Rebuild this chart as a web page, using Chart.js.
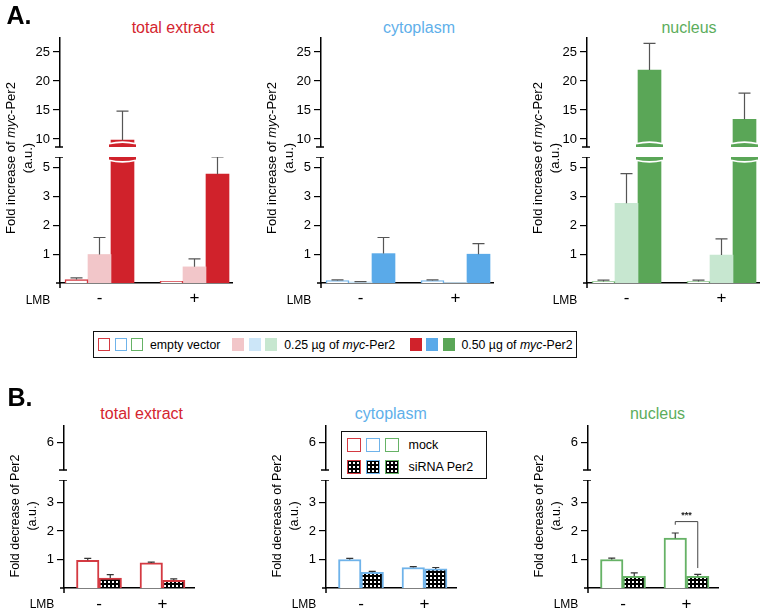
<!DOCTYPE html>
<html>
<head>
<meta charset="utf-8">
<script src="https://cdn.jsdelivr.net/npm/chart.js@4.4.0/dist/chart.umd.min.js"></script>
<style>
html,body{margin:0;padding:0;background:#fff;}
body{width:762px;height:612px;position:relative;overflow:hidden;font-family:'Liberation Sans',Arial,Helvetica,sans-serif;color:#000;}
canvas{position:absolute;}
.t{position:absolute;white-space:nowrap;line-height:1;transform:translate(-50%,-50%);z-index:2;}
.yt{position:absolute;white-space:nowrap;text-align:center;line-height:17px;transform:translate(-50%,-50%) rotate(-90deg);z-index:2;}
.leg{position:absolute;box-sizing:border-box;border:1.5px solid #111;background:#fff;z-index:3;white-space:nowrap;}
.row{display:flex;align-items:center;flex-wrap:nowrap;}
.grp{position:absolute;top:50%;transform:translateY(-50%);}
.sw{box-sizing:border-box;flex:none;}
.lt{flex:none;white-space:nowrap;}
</style>
</head>
<body>
<script>
// ---------------- DATA ----------------
const groupLabels = ['-', '+'];                       // LMB treatment
const panelTitles = ['total extract', 'cytoplasm', 'nucleus'];

// Panel A: fold increase of myc-Per2 (a.u.)
const aSeriesNames = ['empty vector', '0.25 \u00b5g of myc-Per2', '0.50 \u00b5g of myc-Per2'];
const aTotalEmpty = [0.12, 0.06];   const aTotalEmptyErr = [0.06, 0];
const aTotalLow   = [0.99, 0.56];   const aTotalLowErr   = [0.59, 0.28];
const aTotalHigh  = [9.8, 3.78];    const aTotalHighErr  = [5.0, 0.6];
const aCytoEmpty  = [0.08, 0.08];   const aCytoEmptyErr  = [0.03, 0.03];
const aCytoLow    = [0.04, 0.02];   const aCytoLowErr    = [0.01, 0];
const aCytoHigh   = [1.02, 1.0];    const aCytoHighErr   = [0.56, 0.37];
const aNucEmpty   = [0.05, 0.05];   const aNucEmptyErr   = [0.05, 0.05];
const aNucLow     = [2.77, 0.97];   const aNucLowErr     = [1.03, 0.56];
const aNucHigh    = [21.9, 13.4];   const aNucHighErr    = [4.6, 4.5];
const aUpperTicks = [10, 15, 20, 25];
const aLowerTicks = [1, 2, 3, 4];
const aLowerTickLabels = ['1', '2', '3', '5'];

// Panel B: fold decrease of Per2 (a.u.)
const bSeriesNames = ['mock', 'siRNA Per2'];
const bTotalMock = [0.97, 0.88];  const bTotalMockErr = [0.07, 0.03];
const bTotalSi   = [0.35, 0.27];  const bTotalSiErr   = [0.12, 0.05];
const bCytoMock  = [1.0, 0.72];   const bCytoMockErr  = [0.04, 0.03];
const bCytoSi    = [0.55, 0.67];  const bCytoSiErr    = [0.03, 0.05];
const bNucMock   = [1.0, 1.75];   const bNucMockErr   = [0.05, 0.18];
const bNucSi     = [0.41, 0.41];  const bNucSiErr     = [0.12, 0.07];
const bUpperTicks = [6];
const bLowerTicks = [1, 2, 3];
const bSignificance = { label: '***', group: 1, top: 2.33, leftEnd: 2.22, rightEnd: 0.70 };

// ---------------- STYLE ----------------
const pal = [
  { dark: '#d0222b', light: '#f2c6c9', edge: '#d43a42', title: '#d4252f' },
  { dark: '#5aaae9', light: '#cce6f8', edge: '#6fb3ea', title: '#5fb0ea' },
  { dark: '#5aa657', light: '#c7e7d0', edge: '#66b266', title: '#5cad5c' }
];
Chart.defaults.font.family = "'Liberation Sans', Arial, Helvetica, sans-serif";
Chart.defaults.color = '#000';

function hatchTile() {
  const c = document.createElement('canvas'); c.width = 4; c.height = 4;
  const g = c.getContext('2d');
  g.fillStyle = '#000'; g.fillRect(0, 0, 4, 4);
  g.fillStyle = '#fff'; g.fillRect(1, 1, 2, 2);
  return c;
}
const tile = hatchTile();
const hatch = tile.getContext('2d').createPattern(tile, 'repeat');
const hatchURL = tile.toDataURL();

// ---------------- PLUGINS ----------------
const errorBarPlugin = {
  id: 'errorBars',
  afterDatasetsDraw(chart, args, o) {
    const { ctx, chartArea: a } = chart; const y = chart.scales.y;
    ctx.save();
    ctx.beginPath(); ctx.rect(a.left, a.top - 3, a.right - a.left, a.bottom - a.top + 3); ctx.clip();
    ctx.strokeStyle = o.color; ctx.lineWidth = o.width;
    chart.data.datasets.forEach((ds, di) => {
      const meta = chart.getDatasetMeta(di);
      (ds.errors || []).forEach((e, i) => {
        if (!e) return;
        const el = meta.data[i]; const v = ds.data[i].y;
        const y0 = y.getPixelForValue(v), y1 = y.getPixelForValue(v + e);
        ctx.beginPath();
        ctx.moveTo(el.x, y0); ctx.lineTo(el.x, y1);
        ctx.moveTo(el.x - o.cap / 2, y1); ctx.lineTo(el.x + o.cap / 2, y1);
        ctx.stroke();
      });
    });
    ctx.restore();
  }
};
// flared ends where a bar is cut by the axis break
const breakPlugin = {
  id: 'barBreak',
  afterDatasetsDraw(chart, args, o) {
    if (!o || !o.side) return;
    const { ctx, chartArea: a } = chart; const y = chart.scales.y;
    ctx.save();
    chart.data.datasets.forEach((ds, di) => {
      const meta = chart.getDatasetMeta(di);
      meta.data.forEach((el, i) => {
        const v = ds.data[i].y;
        const crosses = o.side === 'top' ? v > y.max : (v > y.min && v < y.max);
        if (!crosses) return;
        const w = el.width, x0 = el.x - w / 2 - 2, x1 = el.x + w / 2 + 2;
        ctx.fillStyle = ds.backgroundColor;
        const ey = o.side === 'top' ? a.top : a.bottom;
        const dir = o.side === 'top' ? 1 : -1;
        ctx.fillRect(x0, Math.min(ey, ey + dir * 4), x1 - x0, 4);
        ctx.strokeStyle = '#fff'; ctx.lineWidth = 1.6;
        ctx.beginPath();
        ctx.moveTo(x0, ey + dir * 3.2);
        ctx.quadraticCurveTo(el.x, ey + dir * 6.5, x1, ey + dir * 3.2);
        ctx.stroke();
      });
    });
    ctx.restore();
  }
};
const axisDecorPlugin = {
  id: 'axisDecor',
  afterDraw(chart, args, o) {
    const { ctx, chartArea: a } = chart;
    ctx.save(); ctx.strokeStyle = '#000'; ctx.lineWidth = 1.5;
    const x = a.left;
    const seg = (x1, y1, x2, y2) => { ctx.beginPath(); ctx.moveTo(x1, y1); ctx.lineTo(x2, y2); ctx.stroke(); };
    if (o.capTop) seg(x - 5, a.top, x + 3, a.top);
    if (o.capBottom) seg(x - 5, a.bottom, x + 3, a.bottom);
    if (o.extend) { seg(x, a.bottom, x, a.bottom + 5); seg(x - 4, a.bottom, x, a.bottom); }
    ctx.restore();
  }
};
const sigPlugin = {
  id: 'sigBracket',
  afterDatasetsDraw(chart, args, o) {
    if (!o || !o.label) return;
    const { ctx } = chart; const y = chart.scales.y;
    const xl = chart.getDatasetMeta(0).data[o.group].x;
    const xr = chart.getDatasetMeta(1).data[o.group].x;
    const yt = y.getPixelForValue(o.top);
    ctx.save(); ctx.strokeStyle = '#444'; ctx.lineWidth = 1;
    ctx.beginPath();
    ctx.moveTo(xl, y.getPixelForValue(o.leftEnd)); ctx.lineTo(xl, yt);
    ctx.lineTo(xr, yt); ctx.lineTo(xr, y.getPixelForValue(o.rightEnd));
    ctx.stroke();
    ctx.fillStyle = '#222'; ctx.font = "bold 9px 'Liberation Sans', Arial";
    ctx.textAlign = 'center'; ctx.textBaseline = 'middle';
    ctx.fillText(o.label, (xl + xr) / 2, yt - 6);
    ctx.restore();
  }
};

// ---------------- BUILDERS ----------------
function pts(vals) { return vals.map((v, i) => ({ x: i, y: v })); }
function makeCanvas(left, top, w, h) {
  const c = document.createElement('canvas');
  c.width = w; c.height = h;
  c.style.left = left + 'px'; c.style.top = top + 'px';
  c.style.width = w + 'px'; c.style.height = h + 'px';
  document.body.appendChild(c);
  return c.getContext('2d');
}
function panelChart(c) {
  const w = c.yW + c.areaW;
  const h = c.areaH + (c.showX ? c.xH : 2);
  const ctx = makeCanvas(c.axisX - c.yW, c.top, w, h);
  c.datasets.forEach(d => { d.barThickness = c.barW; d.clip = 0; });
  return new Chart(ctx, {
    type: 'bar',
    data: { datasets: c.datasets },
    options: {
      responsive: false, animation: false, devicePixelRatio: 1,
      layout: { padding: { left: 0, right: 0, top: 0, bottom: c.showX ? 0 : 2 } },
      plugins: {
        legend: { display: false }, tooltip: { enabled: false },
        errorBars: { color: c.errColor, width: 1.2, cap: c.cap },
        axisDecor: c.decor,
        barBreak: { side: c.breakSide || null },
        sigBracket: c.sig || {}
      },
      scales: {
        x: {
          type: 'linear', display: c.showX, min: c.xMin, max: c.xMax, offset: false,
          afterBuildTicks: s => { s.ticks = groupLabels.map((_, i) => ({ value: i })); },
          afterFit: s => { if (c.showX) s.height = c.xH; s.paddingLeft = 0; s.paddingRight = 0; },
          ticks: { callback: v => groupLabels[v], font: { size: 17 }, color: '#000', padding: c.xPad, autoSkip: false, maxRotation: 0 },
          grid: { display: false, drawTicks: false, offset: false },
          border: { display: true, color: '#000', width: 1.5 }
        },
        y: {
          min: c.yMin, max: c.yMax, beginAtZero: false,
          afterBuildTicks: s => { s.ticks = c.yTicks.map(v => ({ value: v })); },
          afterFit: s => { s.width = c.yW; s.paddingTop = 0; s.paddingBottom = 0; },
          ticks: { callback: (v, i) => c.yTickText[i], font: { size: 13 }, color: '#000', padding: 3, autoSkip: false },
          grid: { display: true, drawOnChartArea: false, drawTicks: true, tickLength: 7, color: '#000', lineWidth: 1.2 },
          border: { display: true, color: '#000', width: 1.5 }
        }
      }
    },
    plugins: [breakPlugin, errorBarPlugin, axisDecorPlugin, sigPlugin]
  });
}

function addText(html, x, y, css) {
  const d = document.createElement('div');
  d.className = 't'; d.innerHTML = html;
  d.style.left = x + 'px'; d.style.top = y + 'px';
  Object.assign(d.style, css || {});
  document.body.appendChild(d);
  return d;
}
function addYTitle(html, x, y, size) {
  const d = document.createElement('div');
  d.className = 'yt'; d.innerHTML = html;
  d.style.left = x + 'px'; d.style.top = y + 'px'; d.style.fontSize = size + 'px';
  document.body.appendChild(d);
}

// ---------------- PANEL A ----------------
const GA = { axisX: [60, 321, 587], len: 173, upTop: 37, upBot: 147, lowTop: 157, lowBot: 283 };
const aData = [
  [aTotalEmpty, aTotalEmptyErr, aTotalLow, aTotalLowErr, aTotalHigh, aTotalHighErr],
  [aCytoEmpty, aCytoEmptyErr, aCytoLow, aCytoLowErr, aCytoHigh, aCytoHighErr],
  [aNucEmpty, aNucEmptyErr, aNucLow, aNucLowErr, aNucHigh, aNucHighErr]
];
function aSets(p, d) {
  return [
    { label: aSeriesNames[0], data: pts(d[0]), errors: d[1], backgroundColor: '#fff', borderColor: pal[p].edge, borderWidth: 1.5 },
    { label: aSeriesNames[1], data: pts(d[2]), errors: d[3], backgroundColor: pal[p].light, borderWidth: 0 },
    { label: aSeriesNames[2], data: pts(d[4]), errors: d[5], backgroundColor: pal[p].dark, borderWidth: 0 }
  ];
}
const aX = { xMin: -39.5 / 95, xMax: 1 + 38.5 / 95 };
for (let p = 0; p < 3; p++) {
  const ax = GA.axisX[p];
  panelChart({ axisX: ax, top: GA.upTop, yW: 45, areaW: GA.len, areaH: GA.upBot - GA.upTop, showX: false,
    datasets: aSets(p, aData[p]), yMin: 8.62, yMax: 27.59, yTicks: aUpperTicks, yTickText: aUpperTicks.map(String),
    ...aX, barW: 23, cap: 12, errColor: '#555', decor: { capBottom: true }, breakSide: 'bottom' });
  panelChart({ axisX: ax, top: GA.lowTop, yW: 45, areaW: GA.len, areaH: GA.lowBot - GA.lowTop, showX: true, xH: 28, xPad: 5,
    datasets: aSets(p, aData[p]), yMin: 0, yMax: 4.375, yTicks: aLowerTicks, yTickText: aLowerTickLabels,
    ...aX, barW: 23, cap: 12, errColor: '#555', decor: { capTop: true, extend: true }, breakSide: 'top' });
  addText(panelTitles[p], [173, 419, 689][p], 28, { fontSize: '16px', color: pal[p].title });
  addYTitle('Fold increase of <i>myc</i>-Per2<br>(a.u.)', ax - 41.5, 158, 13);
  addText('LMB', ax - 22, 300, { fontSize: '12px' });
}
addText('A.', 19, 15, { fontSize: '25px', fontWeight: 'bold' });

// Legend A
(function () {
  const L = document.createElement('div');
  L.className = 'leg';
  Object.assign(L.style, { left: '93px', top: '331px', width: '484px', height: '27px', fontSize: '12.3px' });
  const labelsHtml = ['empty vector', '0.25 \u00b5g of <i>myc</i>-Per2', '0.50 \u00b5g of <i>myc</i>-Per2'];
  const groupLeft = [4, 138.2, 315.5];
  labelsHtml.forEach((lab, k) => {
    const G = document.createElement('div'); G.className = 'row grp'; G.style.left = groupLeft[k] + 'px';
    pal.forEach((c, j) => {
      const s = document.createElement('div'); s.className = 'sw';
      Object.assign(s.style, { width: '12px', height: '13px', marginRight: j < 2 ? '4.5px' : '7px' });
      if (k === 0) { s.style.border = '1px solid ' + c.edge; s.style.background = '#fff'; }
      else s.style.background = k === 1 ? c.light : c.dark;
      G.appendChild(s);
    });
    const t = document.createElement('span'); t.className = 'lt'; t.innerHTML = lab;
    G.appendChild(t);
    L.appendChild(G);
  });
  document.body.appendChild(L);
})();

// ---------------- PANEL B ----------------
const GB = { axisX: [64, 326, 588], len: 131, upTop: 425, upBot: 470, lowTop: 480, lowBot: 588 };
const bData = [
  [bTotalMock, bTotalMockErr, bTotalSi, bTotalSiErr],
  [bCytoMock, bCytoMockErr, bCytoSi, bCytoSiErr],
  [bNucMock, bNucMockErr, bNucSi, bNucSiErr]
];
function bSets(p, d) {
  return [
    { label: bSeriesNames[0], data: pts(d[0]), errors: d[1], backgroundColor: '#fff', borderColor: pal[p].edge, borderWidth: 2 },
    { label: bSeriesNames[1], data: pts(d[2]), errors: d[3], backgroundColor: hatch, borderColor: pal[p].edge, borderWidth: 2 }
  ];
}
const bX = { xMin: -35 / 63.5, xMax: 1 + 32.5 / 63.5 };
for (let p = 0; p < 3; p++) {
  const ax = GB.axisX[p];
  panelChart({ axisX: ax, top: GB.upTop, yW: 45, areaW: GB.len, areaH: GB.upBot - GB.upTop, showX: false,
    datasets: bSets(p, bData[p]), yMin: 5.04, yMax: 6.62, yTicks: bUpperTicks, yTickText: bUpperTicks.map(String),
    ...bX, barW: 22.5, cap: 7, errColor: '#333', decor: { capBottom: true } });
  panelChart({ axisX: ax, top: GB.lowTop, yW: 45, areaW: GB.len, areaH: GB.lowBot - GB.lowTop, showX: true, xH: 24, xPad: 6,
    datasets: bSets(p, bData[p]), yMin: 0, yMax: 3.79, yTicks: bLowerTicks, yTickText: bLowerTicks.map(String),
    ...bX, barW: 22.5, cap: 7, errColor: '#333', decor: { capTop: true, extend: true },
    sig: p === 2 ? bSignificance : null });
  addText(panelTitles[p], [141.7, 390.8, 657.5][p], 414, { fontSize: '16px', color: pal[p].title });
  addYTitle('Fold decrease of Per2<br>(a.u.)', ax - 40.5, 516, 12.5);
  addText('LMB', ax - 22, 604, { fontSize: '12px' });
}
addText('B.', 20, 397, { fontSize: '25px', fontWeight: 'bold' });

// Legend B
(function () {
  const L = document.createElement('div');
  L.className = 'leg';
  Object.assign(L.style, { left: '341px', top: '431px', width: '146px', height: '48px', paddingLeft: '4.5px', paddingTop: '5.5px', fontSize: '12.5px' });
  bSeriesNames.forEach((name, k) => {
    const R = document.createElement('div'); R.className = 'row';
    R.style.marginBottom = k === 0 ? '8px' : '0';
    pal.forEach((c, j) => {
      const s = document.createElement('div'); s.className = 'sw';
      Object.assign(s.style, { width: '14px', height: '14px', marginRight: j < 2 ? '5px' : '10px', border: '1.5px solid ' + c.edge });
      if (k === 0) s.style.background = '#fff';
      else { s.style.backgroundImage = 'url(' + hatchURL + ')'; s.style.backgroundColor = '#000'; }
      R.appendChild(s);
    });
    const t = document.createElement('span'); t.className = 'lt'; t.textContent = name; R.appendChild(t);
    L.appendChild(R);
  });
  document.body.appendChild(L);
})();
</script>
</body>
</html>
